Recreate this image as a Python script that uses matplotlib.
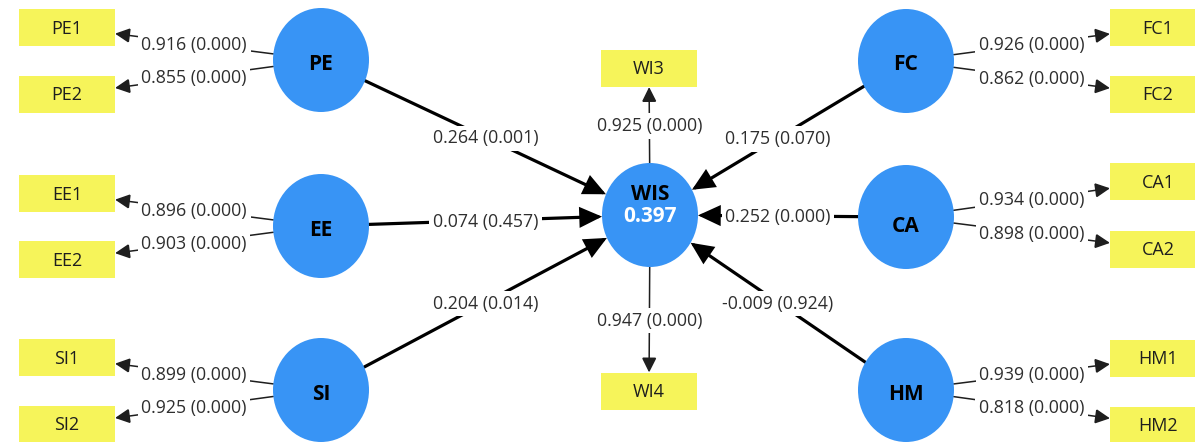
import numpy as np
import matplotlib
matplotlib.use("Agg")
import matplotlib.pyplot as plt
from matplotlib.patches import Ellipse, Rectangle, FancyArrowPatch, ArrowStyle

# ---------------- data ----------------
constructs = ["PE", "EE", "SI", "FC", "CA", "HM"]
target = "WIS"
r_squared = 0.397
path_coef = [0.264, 0.074, 0.204, 0.175, 0.252, -0.009]
path_p = [0.001, 0.457, 0.014, 0.070, 0.000, 0.924]

indicator_owner = ["PE", "PE", "EE", "EE", "SI", "SI", "FC", "FC",
                   "CA", "CA", "HM", "HM", "WIS", "WIS"]
indicators = ["PE1", "PE2", "EE1", "EE2", "SI1", "SI2", "FC1", "FC2",
              "CA1", "CA2", "HM1", "HM2", "WI3", "WI4"]
loadings = [0.916, 0.855, 0.896, 0.903, 0.899, 0.925, 0.926, 0.862,
            0.934, 0.898, 0.939, 0.818, 0.925, 0.947]
loading_p = [0.000] * 14

# ---------------- layout (pixels) ----------------
W, H = 1195, 442
node_pos = {"PE": (321, 60), "EE": (321, 226), "SI": (321, 390),
            "FC": (906, 61), "CA": (906, 217), "HM": (906, 390),
            "WIS": (650, 215)}
text_dy = {"PE": 4, "EE": 4, "SI": 4, "FC": 4, "CA": 9, "HM": 4}
RX, RY = 48, 52
box_pos = {"PE1": (67, 27.5), "PE2": (67, 94.5),
           "EE1": (67, 193.5), "EE2": (67, 259.5),
           "SI1": (67, 357.5), "SI2": (67, 424.5),
           "FC1": (1158, 27.5), "FC2": (1158, 94.5),
           "CA1": (1158, 181.5), "CA2": (1158, 249),
           "HM1": (1158, 358), "HM2": (1158, 425),
           "WI3": (649, 68.5), "WI4": (649, 391)}
BW, BH = 96, 37

BLUE = "#3894F5"
YELLOW = "#F6F45A"
TXT = "#2E2E2E"
FONT = "Open Sans"
FS = 12.8

fig = plt.figure(figsize=(W / 100, H / 100), dpi=100)
ax = fig.add_axes([0, 0, 1, 1])
ax.set_xlim(0, W)
ax.set_ylim(H, 0)
ax.axis("off")


def ell_clip(c, d):
    dx, dy = d
    t = 1.0 / np.sqrt((dx / RX) ** 2 + (dy / RY) ** 2)
    return np.array(c) + t * np.array(d)


def box_clip(c, d):
    dx, dy = d
    tx = (BW / 2) / abs(dx) if abs(dx) > 1e-9 else np.inf
    ty = (BH / 2) / abs(dy) if abs(dy) > 1e-9 else np.inf
    t = min(tx, ty)
    return np.array(c) + t * np.array(d)


def label(x, y, s):
    ax.text(x, y, s, ha="center", va="center", fontsize=FS, family=FONT,
            color=TXT, zorder=6,
            bbox=dict(boxstyle="square,pad=0.2", fc="white", ec="none"))


# latent circles
for name, (x, y) in node_pos.items():
    ax.add_patch(Ellipse((x, y), 2 * RX, 2 * RY, fc=BLUE, ec="none", zorder=3))
    if name == target:
        ax.text(x, y - 21, name, ha="center", va="center", fontsize=15,
                fontweight="bold", family=FONT, color="black", zorder=4)
        ax.text(x, y + 2, f"{r_squared:.3f}", ha="center", va="center",
                fontsize=15, fontweight="bold", family=FONT, color="white",
                zorder=4)
    else:
        ax.text(x, y + text_dy[name], name, ha="center", va="center",
                fontsize=15, fontweight="bold", family=FONT, color="black",
                zorder=4)

# indicator boxes
for name, (x, y) in box_pos.items():
    ax.add_patch(Rectangle((x - BW / 2, y - BH / 2), BW, BH, fc=YELLOW,
                           ec="none", zorder=3))
    ax.text(x, y + 1, name, ha="center", va="center", fontsize=13,
            family=FONT, color="#1E1E1E", zorder=4)

# structural paths
tc = np.array(node_pos[target])
for name, b, p in zip(constructs, path_coef, path_p):
    c = np.array(node_pos[name])
    d = (tc - c) / np.linalg.norm(tc - c)
    a0 = ell_clip(c, d)
    a1 = ell_clip(tc, -d)
    arr = FancyArrowPatch(a0, a1, arrowstyle=ArrowStyle("-|>", head_length=12.5,
                          head_width=5.8), mutation_scale=1, lw=2.3,
                          color="black", shrinkA=0, shrinkB=0, zorder=2,
                          joinstyle="miter")
    ax.add_patch(arr)
    m = (a0 + a1) / 2
    label(m[0], m[1] + 1, f"{b:.3f} ({p:.3f})")

# measurement paths
for owner, ind, lv, p in zip(indicator_owner, indicators, loadings, loading_p):
    c = np.array(node_pos[owner])
    bc = np.array(box_pos[ind])
    d = (bc - c) / np.linalg.norm(bc - c)
    a0 = ell_clip(c, d)
    a1 = box_clip(bc, -d)
    arr = FancyArrowPatch(a0, a1, arrowstyle=ArrowStyle("-|>", head_length=9,
                          head_width=4.5), mutation_scale=1, lw=1.1,
                          color="#1E1E1E", shrinkA=0, shrinkB=0, zorder=2,
                          joinstyle="miter")
    ax.add_patch(arr)
    m = (a0 + a1) / 2
    label(m[0], m[1] + 1, f"{lv:.3f} ({p:.3f})")

fig.savefig("out.png", dpi=100)
